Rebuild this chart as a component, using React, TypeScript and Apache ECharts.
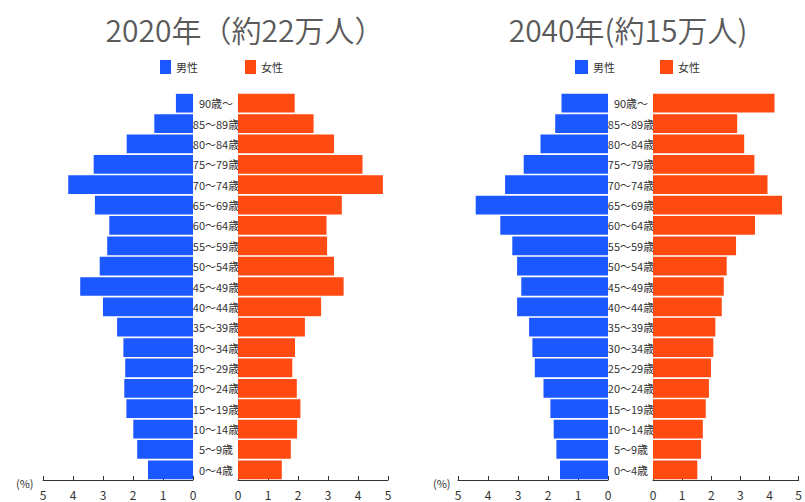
import React, { useEffect, useRef } from "react";
import * as echarts from "echarts";

const ageGroups = [
  "90歳～", "85～89歳", "80～84歳", "75～79歳", "70～74歳", "65～69歳", "60～64歳",
  "55～59歳", "50～54歳", "45～49歳", "40～44歳", "35～39歳", "30～34歳", "25～29歳",
  "20～24歳", "15～19歳", "10～14歳", "5～9歳", "0～4歳",
];

const male2020 = [0.57, 1.29, 2.21, 3.31, 4.16, 3.27, 2.79, 2.86, 3.11, 3.76, 3.0, 2.53, 2.32, 2.26, 2.29, 2.22, 1.99, 1.86, 1.5];
const female2020 = [1.89, 2.52, 3.2, 4.15, 4.83, 3.46, 2.95, 2.97, 3.2, 3.52, 2.77, 2.23, 1.9, 1.81, 1.96, 2.08, 1.97, 1.76, 1.46];
const male2040 = [1.55, 1.76, 2.25, 2.81, 3.43, 4.41, 3.59, 3.19, 3.03, 2.89, 3.03, 2.63, 2.52, 2.44, 2.15, 1.92, 1.81, 1.72, 1.6];
const female2040 = [4.17, 2.89, 3.13, 3.48, 3.93, 4.43, 3.5, 2.85, 2.53, 2.43, 2.36, 2.14, 2.07, 1.99, 1.92, 1.81, 1.71, 1.65, 1.52];

const titles = ["2020年（約22万人）", "2040年(約15万人)"];
const legendNames = ["男性", "女性"];

const BLUE = "#1c58ff";
const ORANGE = "#ff4a12";
const FONT = "'Noto Sans CJK JP', 'Noto Sans', sans-serif";

export default function App() {
  const ref = useRef<HTMLDivElement>(null);
  useEffect(() => {
    if (!ref.current) return;
    const chart = echarts.init(ref.current, undefined, { renderer: "svg" });
    const grids = [
      { left: 43, top: 93, width: 150, height: 387 },
      { left: 238, top: 93, width: 150, height: 387 },
      { left: 458, top: 93, width: 150, height: 387 },
      { left: 653, top: 93, width: 150, height: 387 },
    ];
    const xAxes = grids.map((_, i) => ({
      type: "value",
      gridIndex: i,
      min: 0,
      max: 5,
      interval: 1,
      inverse: i % 2 === 0,
      axisLine: { show: true, lineStyle: { color: "#333", width: 1 } },
      axisTick: { show: true, inside: true, length: 4, lineStyle: { color: "#333" } },
      axisLabel: { fontSize: 12, color: "#333", margin: 8, fontFamily: FONT, showMinLabel: true, showMaxLabel: true },
      splitLine: { show: false },
    }));
    const yAxes = grids.map((_, i) => ({
      type: "category",
      gridIndex: i,
      data: ageGroups,
      inverse: true,
      axisLine: { show: false },
      axisTick: { show: false },
      axisLabel: i % 2 === 1
        ? { show: true, align: "center", margin: 22, fontSize: 11, color: "#333", fontFamily: FONT, interval: 0, padding: [0, 0, 3, 0] }
        : { show: false },
    }));
    const datas = [male2020, female2020, male2040, female2040];
    const series = datas.map((d, i) => ({
      type: "bar",
      name: legendNames[i % 2],
      xAxisIndex: i,
      yAxisIndex: i,
      data: d,
      barCategoryGap: "8%",
      itemStyle: { color: i % 2 === 0 ? BLUE : ORANGE },
    }));
    chart.setOption({
      animation: false,
      textStyle: { fontFamily: FONT },
      legend: [
        {
          left: 155, top: 55, itemWidth: 11, itemHeight: 14, itemGap: 47, icon: "rect",
          data: legendNames, textStyle: { fontSize: 11, color: "#333", fontFamily: FONT },
          selectedMode: false,
        },
        {
          left: 570, top: 55, itemWidth: 13, itemHeight: 14, itemGap: 45, icon: "rect",
          data: legendNames, textStyle: { fontSize: 11, color: "#333", fontFamily: FONT },
          selectedMode: false,
        },
      ],
      grid: grids,
      xAxis: xAxes,
      yAxis: yAxes,
      series,
      graphic: [
        {
          type: "text", x: 245, y: 29,
          style: { text: titles[0], fontSize: 30, fontWeight: 350, fill: "#5a5a5a", fontFamily: FONT, textAlign: "center", textVerticalAlign: "middle" },
        },
        {
          type: "text", x: 628, y: 29,
          style: { text: titles[1], fontSize: 30, fontWeight: 350, fill: "#5a5a5a", fontFamily: FONT, textAlign: "center", textVerticalAlign: "middle" },
        },
        {
          type: "text", x: 16, y: 483,
          style: { text: "(%)", fontSize: 11, fill: "#333", fontFamily: FONT, textAlign: "left", textVerticalAlign: "middle" },
        },
        {
          type: "text", x: 433, y: 483,
          style: { text: "(%)", fontSize: 11, fill: "#333", fontFamily: FONT, textAlign: "left", textVerticalAlign: "middle" },
        },
      ],
    });
    return () => chart.dispose();
  }, []);
  return (
    <div
      ref={ref}
      style={{ position: "absolute", left: 0, top: 0, width: 805, height: 502, background: "#fff" }}
    />
  );
}
